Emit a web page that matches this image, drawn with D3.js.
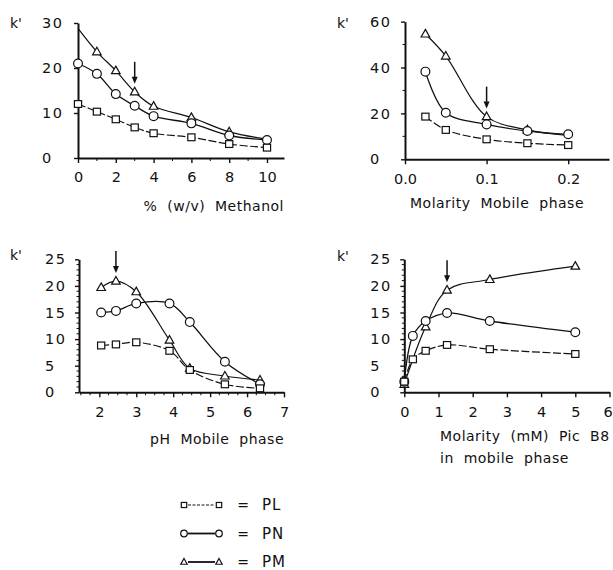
<!DOCTYPE html>
<html>
<head>
<meta charset="utf-8">
<script src="https://cdn.jsdelivr.net/npm/d3@7"></script>
<style>
  body { margin: 0; background: #fff; }
  svg { display: block; }
  text { font-family: "DejaVu Sans", "Liberation Sans", Arial, sans-serif; fill: #111; }
</style>
</head>
<body>
<div id="wrapper"></div>
<script>
// Dados (k' versus condição)
const series = ["PL", "PN", "PM"];

// Painel 1: % (w/v) metanol
const methanolX = [0, 1, 2, 3, 4, 6, 8, 10];
const methanolPL = [12.0, 10.3, 8.6, 6.8, 5.5, 4.6, 3.1, 2.3];
const methanolPN = [21.0, 18.7, 14.2, 11.6, 9.3, 7.7, 5.0, 4.0];
const methanolPM = [28.8, 23.6, 19.4, 14.7, 11.5, 9.0, 5.8, 4.2];

// Painel 2: molaridade da fase móvel
const molarityX = [0.025, 0.05, 0.1, 0.15, 0.2];
const molarityPL = [18.6, 12.8, 8.7, 7.0, 6.2];
const molarityPN = [38.2, 20.3, 15.2, 12.3, 10.9];
const molarityPM = [54.6, 45.0, 18.6, 12.8, 10.4];

// Painel 3: pH da fase móvel
const phX = [2.05, 2.45, 3.0, 3.9, 4.45, 5.4, 6.35];
const phPL = [8.8, 9.0, 9.4, 7.8, 4.2, 1.5, 0.75];
const phPN = [15.0, 15.3, 16.7, 16.7, 13.2, 5.75, 1.5];
const phPM = [19.7, 20.9, 18.9, 9.8, 4.5, 3.06, 2.3];

// Painel 4: Pic B8 (mM)
const picX = [0, 0.25, 0.625, 1.25, 2.5, 5];
const picPL = [2.0, 6.2, 7.8, 8.9, 8.1, 7.2];
const picPN = [2.0, 10.6, 13.4, 14.9, 13.4, 11.3];
const picPMX = [0, 0.625, 1.25, 2.5, 5];
const picPM = [1.5, 12.3, 19.2, 21.2, 23.7];

// Setas (condição escolhida)
const arrowAt = [3, 0.1, 2.45, 1.25];

// Ticks
const methanolTicks = [0, 2, 4, 6, 8, 10];
const methanolMinor = [1, 3, 5, 7, 9];
const methanolYTicks = [0, 10, 20, 30];
const molarityTicks = [0, 0.1, 0.2];
const molarityYTicks = [0, 20, 40, 60];
const molarityYMinor = [10, 30, 50];
const phTicks = [2, 3, 4, 5, 6, 7];
const phMinor = d3.range(1.5, 7, 0.25).filter(v => Math.abs(v - Math.round(v)) > 0.01);
const kTicks25 = [0, 5, 10, 15, 20, 25];
const kMinor25 = d3.range(1, 25).filter(v => v % 5 !== 0);
const picTicks = [0, 1, 2, 3, 4, 5, 6];

const panels = [
  {
    left: 78, top: 23, width: 206, height: 135,
    xDomain: [0, 10.9], yDomain: [0, 30],
    xTicks: methanolTicks, xMinor: methanolMinor, xFmt: d3.format("d"),
    yTicks: methanolYTicks, yMinor: [],
    yLabelX: -36,
    data: [
      { name: "PL", x: methanolX, y: methanolPL },
      { name: "PN", x: methanolX, y: methanolPN },
      { name: "PM", x: methanolX, y: methanolPM, hide: [0, 7] }
    ],
    arrowX: arrowAt[0],
    kx: 10, ky: 28,
    label: [{ text: "%  (w/v)  Methanol", x: 284, y: 211, anchor: "end" }]
  },
  {
    left: 405, top: 21.6, width: 204, height: 137.7,
    xDomain: [0, 0.25], yDomain: [0, 60],
    xTicks: molarityTicks, xMinor: [], xFmt: d3.format(".1f"),
    yTicks: molarityYTicks, yMinor: molarityYMinor,
    yLabelX: -35,
    data: [
      { name: "PL", x: molarityX, y: molarityPL },
      { name: "PN", x: molarityX, y: molarityPN },
      { name: "PM", x: molarityX, y: molarityPM, hide: [4] }
    ],
    arrowX: arrowAt[1],
    kx: 337, ky: 28,
    label: [{ text: "Molarity  Mobile  phase", x: 410, y: 208, anchor: "start" }]
  },
  {
    left: 79, top: 259.3, width: 205, height: 133,
    xDomain: [1.45, 7], yDomain: [0, 25],
    xTicks: phTicks, xMinor: phMinor, xFmt: d3.format("d"),
    yTicks: kTicks25, yMinor: kMinor25,
    yLabelX: -34,
    data: [
      { name: "PL", x: phX, y: phPL },
      { name: "PN", x: phX, y: phPN },
      { name: "PM", x: phX, y: phPM }
    ],
    arrowX: arrowAt[2],
    kx: 10, ky: 260,
    label: [{ text: "pH  Mobile  phase", x: 284, y: 444, anchor: "end" }]
  },
  {
    left: 404.3, top: 259.3, width: 205.2, height: 133,
    xDomain: [0, 6], yDomain: [0, 25],
    xTicks: picTicks, xMinor: [], xFmt: d3.format("d"),
    yTicks: kTicks25, yMinor: kMinor25,
    yLabelX: -34,
    data: [
      { name: "PL", x: picX, y: picPL },
      { name: "PN", x: picX, y: picPN },
      { name: "PM", x: picPMX, y: picPM }
    ],
    arrowX: arrowAt[3],
    kx: 337, ky: 261,
    label: [
      { text: "Molarity  (mM)  Pic  B8", x: 440, y: 441, anchor: "start" },
      { text: "in  mobile  phase", x: 440, y: 463, anchor: "start" }
    ]
  }
];

const lineStyle = {
  PL: { dash: "8,2.5", width: 1.2 },
  PN: { dash: null, width: 1.3 },
  PM: { dash: null, width: 1.2 }
};

const svg = d3.select("#wrapper").append("svg")
  .attr("width", 613)
  .attr("height", 570)
  .attr("viewBox", "0 0 613 570");

svg.append("rect").attr("width", 613).attr("height", 570).attr("fill", "#fff");

// desenha um marcador centrado em (0,0)
function marker(sel, name, size) {
  const s = size || 1;
  if (name === "PL") {
    sel.append("rect")
      .attr("x", -3.6 * s).attr("y", -3.4 * s)
      .attr("width", 7.2 * s).attr("height", 6.8 * s);
  } else if (name === "PN") {
    sel.append("circle").attr("r", 4.4 * s);
  } else {
    sel.append("path")
      .attr("d", `M0,${-4.6 * s}L${4.3 * s},${3 * s}L${-4.3 * s},${3 * s}Z`);
  }
  sel.selectAll("rect,circle,path")
    .attr("fill", "#fff")
    .attr("stroke", "#111")
    .attr("stroke-width", 1.2);
}

panels.forEach(p => {
  const x = d3.scaleLinear().domain(p.xDomain).range([p.left, p.left + p.width]);
  const y = d3.scaleLinear().domain(p.yDomain).range([p.top + p.height, p.top]);
  const g = svg.append("g");
  const base = p.top + p.height;

  // Eixo x
  const xAxis = g.append("g")
    .attr("transform", `translate(0,${base})`)
    .call(d3.axisBottom(x).tickValues(p.xTicks).tickFormat(p.xFmt).tickSize(5).tickSizeOuter(0).tickPadding(9));
  xAxis.select(".domain").attr("stroke-width", 2).attr("stroke", "#111");
  xAxis.selectAll(".tick line").attr("stroke-width", 1.4).attr("stroke", "#111");
  xAxis.selectAll(".tick text").attr("font-size", 14.5).attr("fill", "#111")
    .attr("font-family", '"DejaVu Sans", Arial, sans-serif')
    // o último rótulo encostado na borda da página
    .attr("dx", d => (x(d) > 600 ? -2 : 0));
  g.append("g").selectAll("line").data(p.xMinor).join("line")
    .attr("x1", d => x(d)).attr("x2", d => x(d))
    .attr("y1", base).attr("y2", base + 3)
    .attr("stroke", "#111").attr("stroke-width", 1);

  // Eixo y
  const yAxis = g.append("g")
    .attr("transform", `translate(${p.left},0)`)
    .call(d3.axisLeft(y).tickValues(p.yTicks).tickSize(4).tickSizeOuter(0));
  yAxis.select(".domain").attr("stroke-width", 2).attr("stroke", "#111");
  yAxis.selectAll(".tick line").attr("stroke-width", 1.4).attr("stroke", "#111");
  yAxis.selectAll(".tick text")
    .attr("font-size", 14.5).attr("fill", "#111")
    .attr("font-family", '"DejaVu Sans", Arial, sans-serif')
    .attr("letter-spacing", 1.5)
    .attr("text-anchor", "start")
    .attr("x", p.yLabelX);
  g.append("g").selectAll("line").data(p.yMinor).join("line")
    .attr("x1", p.left - 2.5).attr("x2", p.left)
    .attr("y1", d => y(d)).attr("y2", d => y(d))
    .attr("stroke", "#111").attr("stroke-width", 1);

  // Curvas
  const line = d3.line()
    .x(d => x(d[0]))
    .y(d => y(d[1]))
    .curve(d3.curveCatmullRom.alpha(0.5));

  p.data.forEach(s => {
    const pts = s.x.map((v, i) => [v, s.y[i]]);
    g.append("path")
      .attr("d", line(pts))
      .attr("fill", "none")
      .attr("stroke", "#111")
      .attr("stroke-width", lineStyle[s.name].width)
      .attr("stroke-dasharray", lineStyle[s.name].dash);
  });

  // Marcadores (PM embaixo, PL em cima)
  ["PM", "PN", "PL"].forEach(name => {
    const s = p.data.find(d => d.name === name);
    const hide = s.hide || [];
    s.x.forEach((v, i) => {
      if (hide.includes(i)) return;
      const m = g.append("g").attr("transform", `translate(${x(v)},${y(s.y[i])})`);
      marker(m, name);
    });
  });

  // Seta
  const pm = p.data.find(d => d.name === "PM");
  const ai = pm.x.findIndex(v => Math.abs(v - p.arrowX) < 1e-9);
  const ax = x(p.arrowX);
  const tip = y(pm.y[ai]) - 8;
  g.append("line")
    .attr("x1", ax).attr("x2", ax)
    .attr("y1", tip - 22).attr("y2", tip - 5)
    .attr("stroke", "#111").attr("stroke-width", 1.5);
  g.append("path")
    .attr("d", `M${ax - 3},${tip - 7}L${ax + 3},${tip - 7}L${ax},${tip}Z`)
    .attr("fill", "#111");

  // k'
  g.append("text").attr("x", p.kx).attr("y", p.ky)
    .attr("font-size", 14).text("k'");

  // rótulo do eixo x
  p.label.forEach(l => {
    g.append("text")
      .attr("x", l.x).attr("y", l.y)
      .attr("text-anchor", l.anchor)
      .attr("font-size", 14)
      .attr("letter-spacing", 0.5)
      .style("white-space", "pre")
      .text(l.text);
  });
});

// Legenda
const legendY = d3.scalePoint().domain(series).range([505, 562]);
series.forEach(name => {
  const yy = legendY(name);
  const lg = svg.append("g");
  lg.append("line")
    .attr("x1", 188).attr("x2", 215)
    .attr("y1", yy).attr("y2", yy)
    .attr("stroke", "#111")
    .attr("stroke-width", name === "PL" ? 1 : 1.8)
    .attr("stroke-dasharray", name === "PL" ? "3,1.5" : null);
  [184, 219].forEach(mx => {
    const m = lg.append("g").attr("transform", `translate(${mx},${yy})`);
    marker(m, name, 0.75);
  });
  lg.append("text").attr("x", 243).attr("y", yy + 5)
    .attr("text-anchor", "middle").attr("font-size", 14).text("=");
  lg.append("text").attr("x", 262).attr("y", yy + 5)
    .attr("font-size", 15).attr("letter-spacing", 1).text(name);
});
</script>
</body>
</html>
